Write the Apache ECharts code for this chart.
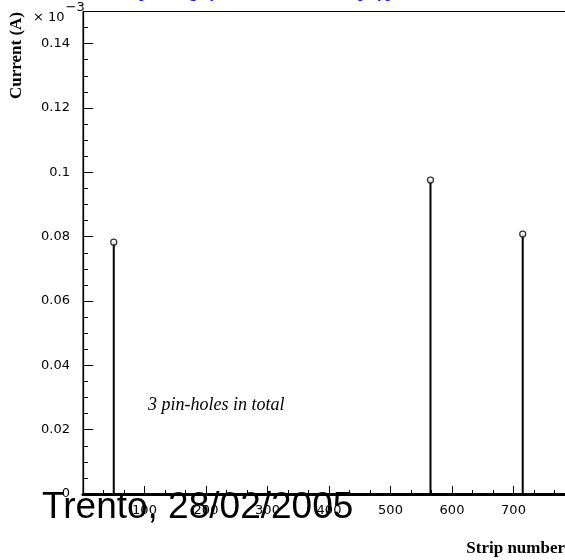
<!DOCTYPE html>
<html>
<head>
<meta charset="utf-8">
<script src="https://cdn.jsdelivr.net/npm/echarts@6/dist/echarts.min.js"></script>
<style>
  html, body { margin: 0; padding: 0; background: #fff; }
  #chart { width: 565px; height: 560px; }
</style>
</head>
<body>
<div id="chart"></div>
<script>
// Strips where a pin-hole was found and the current measured on each (units of 1e-3 A)
const pinholeStrips = [50, 565, 715];
const pinholeCurrents = [0.0783, 0.0976, 0.0808];

// Axis ranges and ticks
const stripRange = [0, 800];
const stripStep = 100;
const currentRange = [0, 0.15];
const currentStep = 0.02;

const titleText = 'Oxide test on AC pad ring by W3 and W4 sensor, p-type';
const dateText = 'Trento, 28/02/2005';
const noteText = '3 pin-holes in total';

const points = pinholeStrips.map((s, i) => [s, pinholeCurrents[i]]);

const chart = echarts.init(document.getElementById('chart'), null, { renderer: 'canvas' });

const axisFont = { fontFamily: '"DejaVu Sans", sans-serif', fontSize: 13, color: '#000' };

chart.setOption({
  animation: false,
  backgroundColor: '#fff',
  grid: {
    left: 83, top: 11.5, width: 492, height: 482.5,
    outerBoundsMode: 'none',
    containLabel: false,
    show: true, borderColor: '#000', borderWidth: 1, backgroundColor: 'transparent'
  },
  xAxis: {
    type: 'value',
    min: stripRange[0], max: stripRange[1], interval: stripStep,
    axisLine: { show: true, onZero: false, lineStyle: { color: '#000', width: 3 } },
    axisTick: { show: true, inside: true, length: 8, lineStyle: { color: '#000', width: 1 } },
    minorTick: { show: true, splitNumber: 3, length: 4, lineStyle: { color: '#000', width: 1 } },
    splitLine: { show: false },
    axisLabel: Object.assign({
      margin: 10,
      formatter: v => (v === stripRange[0] || v === stripRange[1]) ? '' : String(v)
    }, axisFont)
  },
  yAxis: {
    type: 'value',
    min: currentRange[0], max: currentRange[1], interval: currentStep,
    axisLine: { show: true, lineStyle: { color: '#000', width: 1.3 } },
    axisTick: { show: true, inside: true, length: 10, lineStyle: { color: '#000', width: 1 } },
    minorTick: { show: true, splitNumber: 4, length: 5, lineStyle: { color: '#000', width: 1 } },
    splitLine: { show: false },
    axisLabel: Object.assign({
      margin: 13,
      formatter: v => {
        const r = Math.round(v / currentStep);
        if (Math.abs(v - r * currentStep) > 1e-9) return '';
        return String(+v.toFixed(2));
      }
    }, axisFont)
  },
  series: [
    {
      // vertical stems from zero up to the measured current
      type: 'bar',
      data: points,
      barWidth: 2,
      itemStyle: { color: '#000' },
      silent: true
    },
    {
      // open marker on top of each stem
      type: 'scatter',
      data: points,
      symbol: 'circle',
      symbolSize: 6,
      itemStyle: { color: '#fff', borderColor: '#000', borderWidth: 1.3 },
      z: 5,
      silent: true
    }
  ],
  graphic: [
    {
      type: 'text', x: 18, y: -7,
      style: {
        text: titleText, align: 'left', verticalAlign: 'middle',
        font: 'bold 16px "Liberation Serif", "Times New Roman", serif', fill: '#1c1cf0'
      }
    },
    {
      type: 'text', x: 33, y: 18,
      style: {
        text: '{m|× 10}{s|−3}', align: 'left', verticalAlign: 'middle',
        rich: {
          m: { font: '13px "DejaVu Sans", sans-serif', fill: '#000' },
          s: { font: '13px "DejaVu Sans", sans-serif', fill: '#000', padding: [0, 0, 20, 1] }
        }
      }
    },
    {
      type: 'text', x: 17, y: 12, rotation: Math.PI / 2,
      style: {
        text: 'Current (A)', align: 'right', verticalAlign: 'middle',
        font: 'bold 17px "Liberation Serif", "Times New Roman", serif', fill: '#000'
      }
    },
    {
      type: 'text', x: 565, y: 557,
      style: {
        text: 'Strip number', align: 'right', verticalAlign: 'bottom',
        font: 'bold 17px "Liberation Serif", "Times New Roman", serif', fill: '#000'
      }
    },
    {
      type: 'text', x: 148, y: 405,
      style: {
        text: noteText, align: 'left', verticalAlign: 'middle',
        font: 'italic 18px "Liberation Serif", "Times New Roman", serif', fill: '#000'
      }
    },
    {
      type: 'text', x: 42, y: 508, z: 100,
      style: {
        text: dateText, align: 'left', verticalAlign: 'middle',
        font: '37px "Liberation Sans", Arial, sans-serif', fill: '#000'
      }
    }
  ]
});
</script>
</body>
</html>
